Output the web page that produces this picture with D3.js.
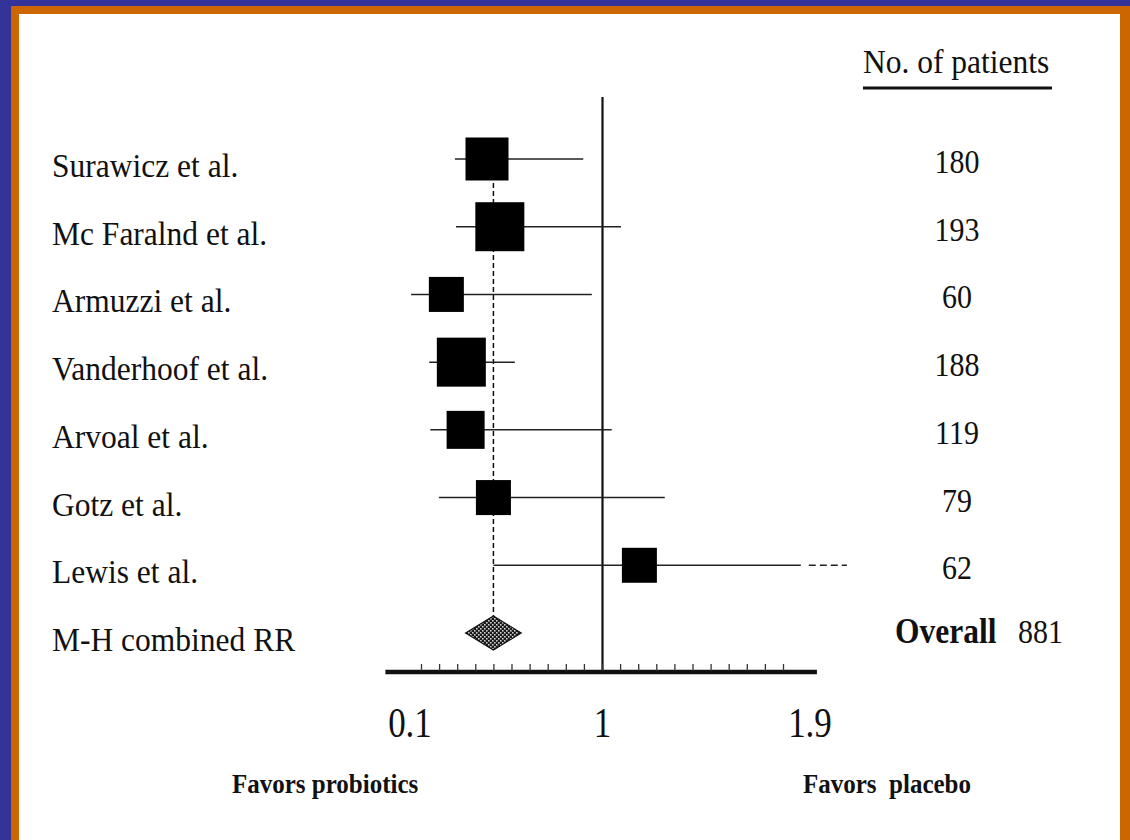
<!DOCTYPE html>
<html>
<head>
<meta charset="utf-8">
<script src="https://cdn.jsdelivr.net/npm/d3@7/dist/d3.min.js"></script>
<style>
  html, body { margin: 0; padding: 0; background: #fff; }
  svg { display: block; }
  text { font-family: "Liberation Serif", "Times New Roman", serif; fill: #111; }
</style>
</head>
<body>
<svg id="chart" width="1130" height="840"></svg>
<script>
// ---------- data ----------
const studies   = ["Surawicz et al.", "Mc Faralnd et al.", "Armuzzi et al.", "Vanderhoof et al.", "Arvoal et al.", "Gotz et al.", "Lewis et al."];
const rr        = [0.46, 0.52, 0.27, 0.34, 0.36, 0.49, 1.16];
const ciLow     = [0.31, 0.315, 0.105, 0.19, 0.195, 0.235, 0.49];
const ciHigh    = [0.91, 1.08, 0.95, 0.59, 1.04, 1.27, 1.86];
const ciDashTo  = [null, null, null, null, null, null, 2.06];
const weights   = [43, 49, 35, 49, 38, 35, 35];
const patients  = [180, 193, 60, 188, 119, 79, 62];
const combinedLabel = "M-H combined RR";
const combinedRR = [0.36, 0.49, 0.62];   // low, estimate, high
const overallLabel = "Overall";
const totalPatients = 881;
const tickValues = [0.1, 1, 1.9];
const tickLabels = ["0.1", "1", "1.9"];
const rulerValues = d3.range(0, 20.5, 1).map(d => d / 10);
const headerText = "No. of patients";
const favorLeft = "Favors probiotics";
const favorRight = "Favors  placebo";

// ---------- setup ----------
const svg = d3.select("#chart");

// frame
svg.append("rect").attr("x", 0).attr("y", 0).attr("width", 1130).attr("height", 840).attr("fill", "#333399");
svg.append("rect").attr("x", 11).attr("y", 6).attr("width", 1119).attr("height", 834).attr("fill", "#CC6600");
svg.append("rect").attr("x", 19).attr("y", 14).attr("width", 1101).attr("height", 826).attr("fill", "#ffffff");

// pattern for diamond
const defs = svg.append("defs");
const pat = defs.append("pattern").attr("id", "checker").attr("patternUnits", "userSpaceOnUse")
  .attr("width", 4).attr("height", 4);
pat.append("rect").attr("width", 4).attr("height", 4).attr("fill", "#1a1a1a");
pat.append("rect").attr("x", 0).attr("y", 0).attr("width", 1.6).attr("height", 1.6).attr("fill", "#cfcfcf");
pat.append("rect").attr("x", 2).attr("y", 2).attr("width", 1.6).attr("height", 1.6).attr("fill", "#cfcfcf");

// scales
const x = d3.scaleLinear().domain([0.1, 1, 1.9]).range([410, 602.5, 810]);
const ruler = d3.scaleLinear().domain([0, 2]).range([421, 783]);
const rows = d3.scalePoint().domain([...studies, combinedLabel]).range([159, 633]);
const boxSize = d3.scaleLinear().domain([0, 50]).range([0, 50]);

const axisY = 672;
const refTop = 97;

function txt(g, s, tx, ty, opts) {
  const t = g.append("text")
    .attr("transform", `translate(${tx},${ty}) scale(1,${opts.sy || 1.1})`)
    .attr("font-size", opts.size)
    .attr("text-anchor", opts.anchor || "start")
    .attr("font-weight", opts.bold ? "bold" : "normal")
    .style("white-space", "pre")
    .text(s);
  return t;
}

// ---------- reference line at RR = 1 ----------
svg.append("line")
  .attr("x1", x(1)).attr("x2", x(1))
  .attr("y1", refTop).attr("y2", axisY)
  .attr("stroke", "#111").attr("stroke-width", 2.2);

// ---------- dashed line at combined estimate ----------
svg.append("line")
  .attr("x1", x(combinedRR[1])).attr("x2", x(combinedRR[1]))
  .attr("y1", rows(studies[0])).attr("y2", rows(combinedLabel))
  .attr("stroke", "#111").attr("stroke-width", 1.5).attr("stroke-dasharray", "5,3");

// ---------- CI lines ----------
const data = studies.map((s, i) => ({ s, rr: rr[i], lo: ciLow[i], hi: ciHigh[i], dash: ciDashTo[i], w: weights[i], n: patients[i] }));

svg.selectAll("line.ci").data(data).join("line")
  .attr("class", "ci")
  .attr("x1", d => x(d.lo)).attr("x2", d => x(d.hi))
  .attr("y1", d => rows(d.s)).attr("y2", d => rows(d.s))
  .attr("stroke", "#222").attr("stroke-width", 1.5);

svg.selectAll("line.cidash").data(data.filter(d => d.dash != null)).join("line")
  .attr("class", "cidash")
  .attr("x1", d => x(d.hi) + 8).attr("x2", d => x(d.dash))
  .attr("y1", d => rows(d.s)).attr("y2", d => rows(d.s))
  .attr("stroke", "#222").attr("stroke-width", 1.5).attr("stroke-dasharray", "7,4");

// ---------- boxes ----------
svg.selectAll("rect.box").data(data).join("rect")
  .attr("class", "box")
  .attr("x", d => x(d.rr) - boxSize(d.w) / 2)
  .attr("y", d => rows(d.s) - boxSize(d.w) / 2)
  .attr("width", d => boxSize(d.w))
  .attr("height", d => boxSize(d.w))
  .attr("fill", "#000");

// ---------- diamond ----------
const cy = rows(combinedLabel);
const dh = 17;
svg.append("path")
  .attr("d", `M${x(combinedRR[0])},${cy} L${x(combinedRR[1])},${cy - dh} L${x(combinedRR[2])},${cy} L${x(combinedRR[1])},${cy + dh} Z`)
  .attr("fill", "url(#checker)").attr("stroke", "#111").attr("stroke-width", 1.2);

// ---------- axis ----------
const axisG = svg.append("g").attr("transform", `translate(0,${axisY})`);
axisG.append("line")
  .attr("x1", x(-0.015)).attr("x2", x(1.93))
  .attr("y1", 0).attr("y2", 0)
  .attr("stroke", "#111").attr("stroke-width", 4.5);
const rulerAxis = d3.axisTop(ruler).tickValues(rulerValues).tickSize(7).tickFormat("");
const rg = svg.append("g").attr("transform", `translate(0,${axisY - 1})`).call(rulerAxis);
rg.select(".domain").remove();
rg.selectAll(".tick line").attr("stroke", "#333").attr("stroke-width", 1.3);

const lab = svg.append("g");
tickValues.forEach((v, i) => {
  txt(lab, tickLabels[i], x(v), 737, { size: 35, anchor: "middle", sy: 1.2 });
});

// ---------- left labels ----------
const labels = svg.append("g");
[...studies, combinedLabel].forEach(s => {
  txt(labels, s, 52, rows(s) + 18, { size: 31.5, sy: 1.1 });
});

// ---------- right column ----------
txt(svg, headerText, 863, 73, { size: 31.5, sy: 1.1 });
svg.append("line").attr("x1", 863).attr("x2", 1052).attr("y1", 88).attr("y2", 88)
  .attr("stroke", "#111").attr("stroke-width", 3);

data.forEach(d => {
  txt(svg, String(d.n), 957, rows(d.s) + 14, { size: 30, anchor: "middle", sy: 1.12 });
});
txt(svg, overallLabel, 895, rows(combinedLabel) + 10, { size: 31.5, bold: true, sy: 1.15 });
txt(svg, String(totalPatients), 1018, rows(combinedLabel) + 10, { size: 30, sy: 1.12 });

// ---------- favors ----------
txt(svg, favorLeft, 232, 793, { size: 25, bold: true, sy: 1.06 });
txt(svg, favorRight, 803, 793, { size: 25, bold: true, sy: 1.06 });
</script>
</body>
</html>
